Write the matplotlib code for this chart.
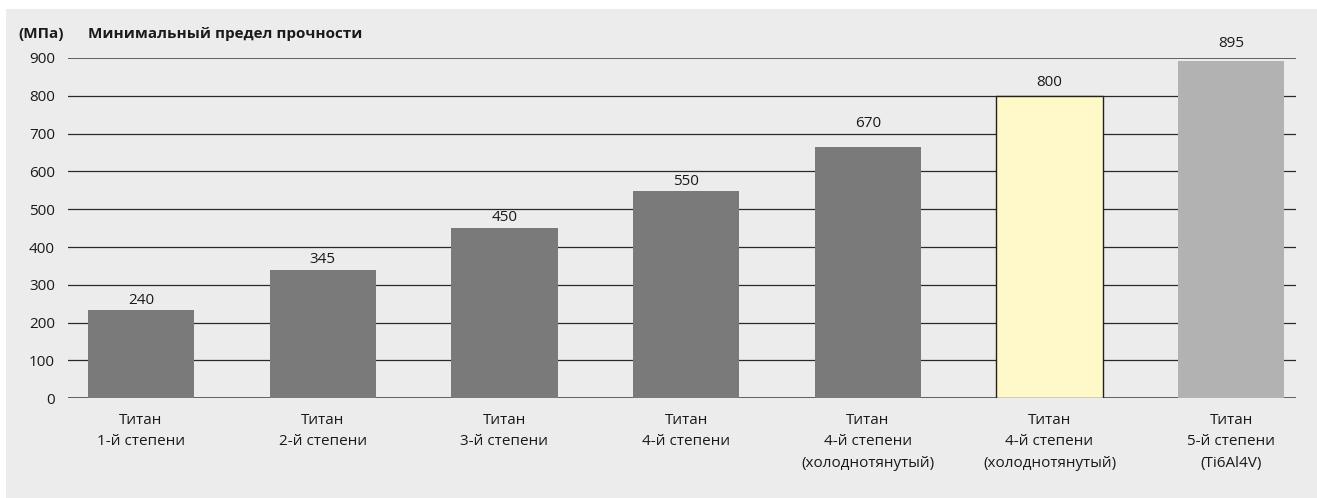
import matplotlib
matplotlib.use("Agg")
import matplotlib.pyplot as plt
from matplotlib.patches import Rectangle

categories = [
    "Титан\n1-й степени",
    "Титан\n2-й степени",
    "Титан\n3-й степени",
    "Титан\n4-й степени",
    "Титан\n4-й степени\n(холоднотянутый)",
    "Титан\n4-й степени\n(холоднотянутый)",
    "Титан\n5-й степени\n(Ti6Al4V)",
]
value_labels = [240, 345, 450, 550, 670, 800, 895]
bar_heights = [233, 339, 450, 548, 665, 800, 892]
yticks = [0, 100, 200, 300, 400, 500, 600, 700, 800, 900]
unit_label = "(МПа)"
title = "Минимальный предел прочности"

# styles
bar_colors = ["#7a7a7a"] * 5 + ["#fff8c8", "#b2b2b2"]
edge_colors = ["none"] * 5 + ["#222222", "none"]
label_offsets_px = [2, 3, 3, 2, 16, 6, 10]
FS = 11

plt.rcParams['font.family'] = ['Open Sans', 'DejaVu Sans']
W, H = 1317, 498
fig = plt.figure(figsize=(W / 100, H / 100), dpi=100, facecolor="white")
bg = fig.add_axes([0, 0, 1, 1], zorder=-10)
bg.set_xlim(0, W)
bg.set_ylim(H, 0)
bg.axis("off")
bg.add_patch(Rectangle((6, 9), W - 6, H - 9, facecolor="#ececec", edgecolor="none"))

ax = fig.add_axes([68 / W, 99.7 / H, (1296 - 68) / W, (398.3 - 58) / H])
ax.set_facecolor("none")
x = list(range(len(categories)))
ax.bar(x, bar_heights, width=0.585, color=bar_colors, edgecolor=edge_colors,
       linewidth=1.0, zorder=3)
for xi, v, h, off in zip(x, value_labels, bar_heights, label_offsets_px):
    ax.annotate(str(v), (xi, h), xytext=(0, off), textcoords="offset pixels",
                ha="center", va="bottom", fontsize=FS, color="#1a1a1a", zorder=4)

ax.set_ylim(0, 900)
ax.set_xlim(-0.402, 6.357)
ax.set_yticks(yticks)
ax.set_yticklabels([str(t) for t in yticks])
for t in yticks:
    if t in (0, 900):
        ax.axhline(t, color="#555555", lw=1.3, zorder=1)
    else:
        ax.axhline(t, color="#2a2a2a", lw=0.9, zorder=1)
ax.set_xticks(x)
ax.set_xticklabels(categories, linespacing=1.6)
ax.tick_params(axis="both", length=0, labelsize=FS, colors="#1a1a1a")
ax.tick_params(axis="y", pad=9.5)
ax.tick_params(axis="x", pad=10.5)
for s in ax.spines.values():
    s.set_visible(False)

fig.text(18 / W, 1 - 38 / H, unit_label, fontsize=FS, fontweight="bold", color="#1a1a1a",
         ha="left", va="baseline")
fig.text(88 / W, 1 - 38 / H, title, fontsize=FS, fontweight="bold", color="#1a1a1a",
         ha="left", va="baseline")

fig.savefig("out.png", dpi=100, facecolor="white")
